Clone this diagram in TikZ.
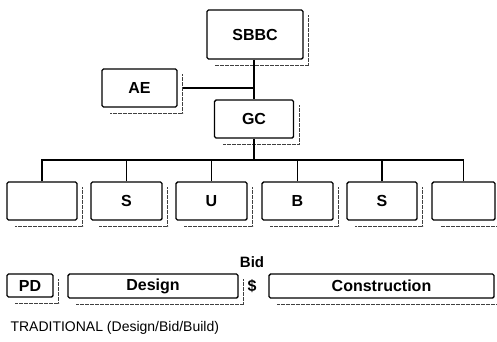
\documentclass[tikz,border=0pt]{standalone}
\usepackage{fontspec}
\setmainfont{Liberation Sans}
\usetikzlibrary{positioning}

\begin{document}
\begin{tikzpicture}[x=1pt,y=-1pt,
  orgbox/.style={draw, line width=1.4pt, rounded corners=1.5pt, fill=white, inner sep=0pt, font=\fontsize{16}{19}\selectfont\bfseries},
  shadowline/.style={draw=black!75, line width=1.4pt, dash pattern=on 2pt off 0.5pt},
  link/.style={line width=1.2pt}]
\useasboundingbox (0,0) rectangle (497,341);

% top of the chart
\node[orgbox, minimum width=96pt, minimum height=49pt] (sbbc) at (255,34.5) {SBBC};
\node[orgbox, minimum width=75pt, minimum height=38pt] (ae) at (139.5,88) {AE};
\node[orgbox, minimum width=79pt, minimum height=38pt] (gc) at (254,119) {GC};

% trades
\foreach \n/\x/\w/\txt in {c1/42/70/{}, c2/126.5/71/S, c3/211.5/71/U, c4/297.5/71/B, c5/382/70/S, c6/463.5/63/{}}
  \node[orgbox, minimum width=\w pt, minimum height=38pt] (\n) at (\x,201) {\txt};

% phases
\node[orgbox, minimum width=46pt, minimum height=23pt] (pd) at (30,285.5) {PD};
\node[orgbox, minimum width=170pt, minimum height=24pt] (design) at (153,286) {Design};
\node[orgbox, minimum width=225pt, minimum height=24pt] (constr) at (381.5,286) {Construction};
\node[font=\fontsize{15}{17}\selectfont\bfseries] (bid) at (252,262) {Bid};
\node[font=\fontsize{16}{18}\selectfont\bfseries] (dollar) at (252,286) {\$};
\node[font=\fontsize{14}{17}\selectfont, anchor=west] (title) at (7,328) {TRADITIONAL (Design/Bid/Build)};

% shadows
\foreach \n in {sbbc,ae,gc,c1,c2,c3,c4,c5,c6,pd,design,constr}
  \draw[shadowline] ([shift={(5pt,-6pt)}]\n.north east) -- ([shift={(5pt,-6pt)}]\n.south east) -- ([shift={(9pt,-6pt)}]\n.south west);

% connectors
\coordinate (aej) at (254,88);
\coordinate (bus) at (254,160);
\draw[link] (sbbc.south -| gc.north) -- (gc.north);
\draw[link] ([xshift=5pt]ae.east) -- (aej);
\draw[link] (gc.south) -- (bus);
\foreach \n in {c1,c2,c3,c4,c5,c6}
  \draw[link] (\n.north) |- (bus);
\end{tikzpicture}
\end{document}
